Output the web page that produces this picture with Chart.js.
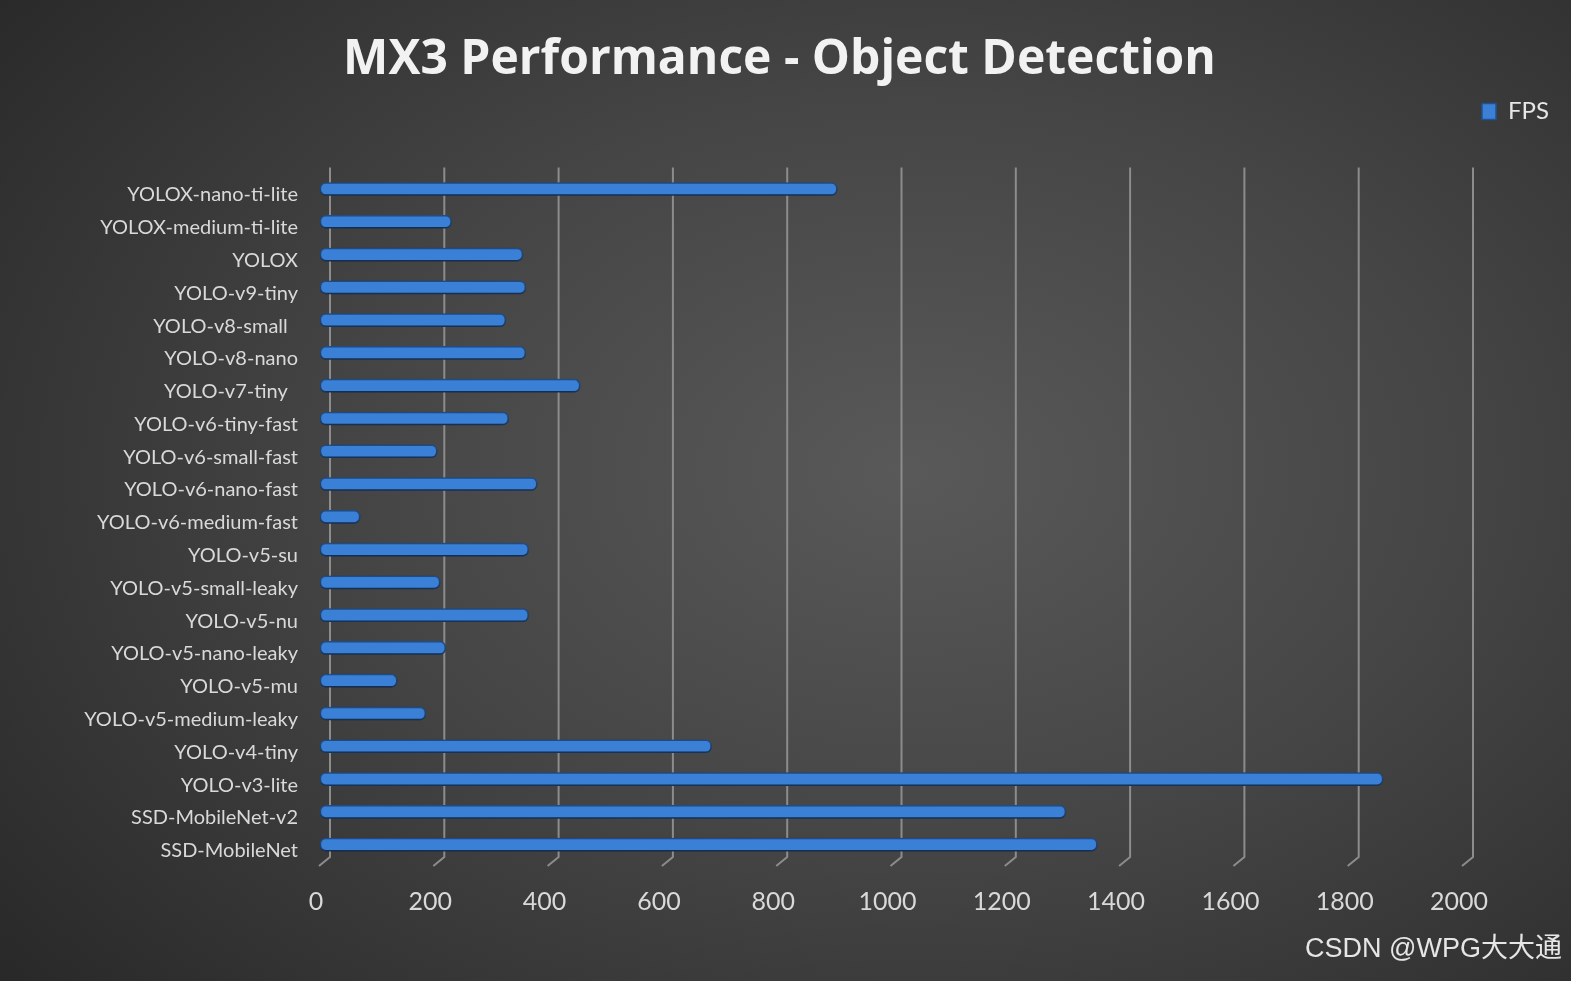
<!DOCTYPE html>
<html>
<head>
<meta charset="utf-8">
<script src="https://cdn.jsdelivr.net/npm/chart.js@4.4.1/dist/chart.umd.min.js"></script>
<style>
  html, body { margin: 0; padding: 0; }
  body {
    width: 1571px;
    height: 981px;
    overflow: hidden;
    background: radial-gradient(ellipse 78% 85% at 58% 48%, #595959 0%, #454545 45%, #262626 100%);
  }
</style>
</head>
<body>
<canvas id="chart" width="1571" height="981"></canvas>
<script>
const models = [
  'YOLOX-nano-ti-lite', 'YOLOX-medium-ti-lite', 'YOLOX', 'YOLO-v9-tiny',
  'YOLO-v8-small  ', 'YOLO-v8-nano', 'YOLO-v7-tiny  ', 'YOLO-v6-tiny-fast',
  'YOLO-v6-small-fast', 'YOLO-v6-nano-fast', 'YOLO-v6-medium-fast', 'YOLO-v5-su',
  'YOLO-v5-small-leaky', 'YOLO-v5-nu', 'YOLO-v5-nano-leaky', 'YOLO-v5-mu',
  'YOLO-v5-medium-leaky', 'YOLO-v4-tiny', 'YOLO-v3-lite', 'SSD-MobileNet-v2',
  'SSD-MobileNet'
]
const fps = [
  905, 230, 355, 360,
  325, 360, 455, 330,
  205, 380, 70, 365,
  210, 365, 220, 135,
  185, 685, 1860, 1305,
  1360
]
const xMin = 0
const xMax = 2000
const xStep = 200

const titleText = 'MX3 Performance - Object Detection'
const seriesName = 'FPS'
const watermark = 'CSDN @WPG大大通'

const wallDepth = 10 // offset of the 3D back wall

const chartFrame = {
  id: 'chartFrame',
  beforeDatasetsDraw(chart) {
    const {ctx, chartArea: {top, bottom}, scales: {x}} = chart
    ctx.save()
    ctx.strokeStyle = '#8c8c8c'
    ctx.lineWidth = 2
    x.ticks.forEach(t => {
      const px = x.getPixelForValue(t.value)
      ctx.beginPath()
      ctx.moveTo(px + wallDepth, top - 5)
      ctx.lineTo(px + wallDepth, bottom - 4)
      ctx.lineTo(px - 1, bottom + 5)
      ctx.stroke()
    })
    ctx.restore()
    // soft shadow under the bars
    ctx.save()
    ctx.shadowColor = 'rgba(0, 0, 0, 0.55)'
    ctx.shadowBlur = 4
    ctx.shadowOffsetY = 2
  },
  afterDatasetsDraw(chart) {
    chart.ctx.restore()
  },
  afterDraw(chart) {
    const {ctx, width, height} = chart
    ctx.save()
    ctx.font = '27px "Liberation Sans", "Noto Sans CJK SC", sans-serif'
    ctx.fillStyle = '#e6e6e6'
    ctx.textAlign = 'right'
    ctx.textBaseline = 'middle'
    ctx.fillText(watermark, width - 9, height - 31)
    ctx.restore()
  }
}

const ctx = document.getElementById('chart').getContext('2d')

new Chart(ctx, {
  type: 'bar',
  data: {
    labels: models,
    datasets: [{
      label: seriesName,
      data: fps,
      backgroundColor: '#3a80d7',
      borderColor: '#22518f',
      borderWidth: 1.5,
      borderRadius: 6,
      borderSkipped: false,
      barThickness: 13
    }]
  },
  options: {
    indexAxis: 'y',
    responsive: false,
    animation: false,
    layout: { padding: { left: 0, right: 12, top: 0, bottom: 38 } },
    plugins: {
      title: {
        display: true,
        text: titleText,
        color: '#f2f2f2',
        font: { family: 'Open Sans', size: 48, weight: 'bold' },
        padding: { top: 32, bottom: 0 }
      },
      subtitle: {
        // empty line, only keeps the gap between legend and plot
        display: true,
        text: '',
        weight: 500,
        font: { size: 10 },
        padding: { top: 0, bottom: 27 }
      },
      legend: {
        display: true,
        position: 'top',
        align: 'end',
        labels: {
          color: '#e6e6e6',
          font: { family: 'Lato', size: 24 },
          boxWidth: 14,
          boxHeight: 16,
          padding: 10
        }
      },
      tooltip: { enabled: false }
    },
    scales: {
      x: {
        min: xMin,
        max: xMax,
        grid: { display: false, drawTicks: false },
        border: { display: false },
        ticks: {
          stepSize: xStep,
          format: { useGrouping: false },
          color: '#d9d9d9',
          font: { family: 'Lato', size: 25 },
          padding: 26,
          labelOffset: -4
        }
      },
      y: {
        grid: { display: false, drawTicks: false },
        border: { display: false },
        ticks: {
          autoSkip: false,
          color: '#d9d9d9',
          font: { family: 'Lato', size: 20 },
          padding: 22,
          labelOffset: 6
        },
        afterFit(scale) { scale.width = 320 }
      },
      yRight: {
        // right margin of the plot area
        type: 'category',
        position: 'right',
        grid: { display: false, drawTicks: false },
        border: { display: false },
        ticks: { display: false },
        afterFit(scale) { scale.width = 96 }
      }
    }
  },
  plugins: [chartFrame]
})
</script>
</body>
</html>
